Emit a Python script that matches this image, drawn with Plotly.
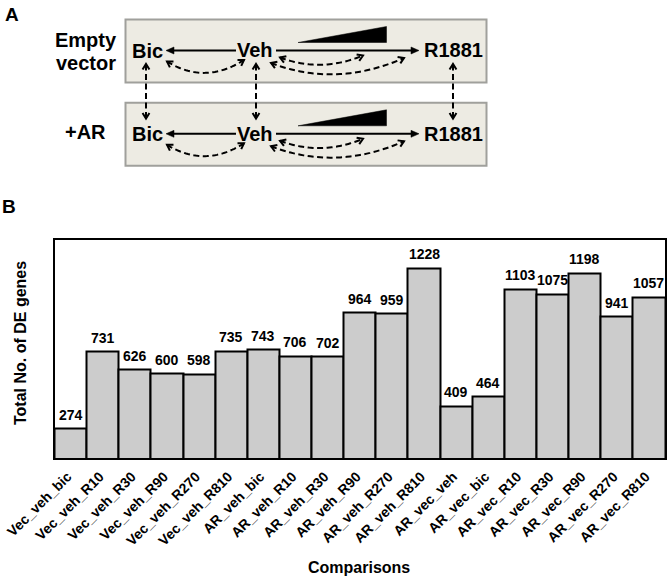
import math
import plotly.graph_objects as go

W, H = 667, 578
FONT = "Liberation Sans, Arial, sans-serif"

categories = ["Vec_veh_bic", "Vec_veh_R10", "Vec_veh_R30", "Vec_veh_R90", "Vec_veh_R270",
              "Vec_veh_R810", "AR_veh_bic", "AR_veh_R10", "AR_veh_R30", "AR_veh_R90",
              "AR_veh_R270", "AR_veh_R810", "AR_vec_veh", "AR_vec_bic", "AR_vec_R10",
              "AR_vec_R30", "AR_vec_R90", "AR_vec_R270", "AR_vec_R810"]
de_genes = [274, 731, 626, 600, 598, 735, 743, 706, 702, 964, 959, 1228,
            409, 464, 1103, 1075, 1198, 941, 1057]
y_range = [100, 1400]

# pixel -> paper helpers
def fx(x):
    return x / W

def fy(y):
    return 1 - y / H

def path(points, close=False):
    s = "M " + " L ".join(f"{fx(x):.5f},{fy(y):.5f}" for x, y in points)
    return s + (" Z" if close else "")

shapes = []
annotations = []
DASH = "6px,3.5px"

def line_shape(pts, dash="solid", width=2, color="black"):
    shapes.append(dict(type="path", xref="paper", yref="paper", path=path(pts),
                       line=dict(color=color, width=width, dash=dash)))

def filled(pts, color="black"):
    shapes.append(dict(type="path", xref="paper", yref="paper", path=path(pts, True),
                       fillcolor=color, line=dict(color=color, width=0.5)))

def chevron(tip, back, length=6.5, ang=32):
    bx, by = back[0] - tip[0], back[1] - tip[1]
    n = math.hypot(bx, by)
    bx, by = bx / n, by / n
    pts = []
    for s in (1, -1):
        a = math.radians(ang * s)
        rx = bx * math.cos(a) - by * math.sin(a)
        ry = bx * math.sin(a) + by * math.cos(a)
        pts.append((tip[0] + rx * length, tip[1] + ry * length))
    line_shape([pts[0], tip, pts[1]], width=2)

def dashed_curve(p0, c, p1):
    pts = []
    for i in range(41):
        t = i / 40
        x = (1 - t) ** 2 * p0[0] + 2 * (1 - t) * t * c[0] + t ** 2 * p1[0]
        y = (1 - t) ** 2 * p0[1] + 2 * (1 - t) * t * c[1] + t ** 2 * p1[1]
        pts.append((x, y))
    line_shape(pts, dash=DASH, width=2)
    chevron(p0, c)
    chevron(p1, c)

def text(x, y, s, size=20, xanchor="center", angle=0):
    annotations.append(dict(x=fx(x), y=fy(y), xref="paper", yref="paper", text=f"<b>{s}</b>",
                            showarrow=False, xanchor=xanchor, yanchor="middle", textangle=angle,
                            font=dict(family=FONT, size=size, color="black")))

# Panel A
for dy in (0, 83.3):
    shapes.append(dict(type="rect", xref="paper", yref="paper",
                       x0=fx(125.5), x1=fx(486.5), y0=fy(19.5 + dy), y1=fy(82.5 + dy),
                       fillcolor="#EDEBE3", line=dict(color="#A0A09C", width=2)))

for dy in (0, 83.3):
    yl = 50.5 + dy
    # Veh -> Bic solid arrow
    line_shape([(236, yl), (172, yl)], width=2)
    filled([(166, yl), (174, yl - 3.5), (174, yl + 3.5)])
    # Veh -> R1881 solid arrow
    line_shape([(276, yl), (412, yl)], width=2)
    filled([(419, yl), (411, yl - 3.5), (411, yl + 3.5)])
    # dose wedge
    filled([(298, 42.5 + dy), (386.5, 26.5 + dy), (386.5, 42.5 + dy)])
    # dashed curves
    dashed_curve((167, 61.5 + dy), (205, 85 + dy), (244, 60 + dy))
    dashed_curve((280, 57.5 + dy), (321, 73 + dy), (363, 55.5 + dy))
    dashed_curve((271, 63 + dy), (336, 88 + dy), (404, 58 + dy))
    text(147, 51 + dy, "Bic")
    text(254.5, 50.5 + dy, "Veh")
    text(453, 50.5 + dy, "R1881")

# vertical dashed double arrows
for xv in (146, 256, 453):
    line_shape([(xv, 64.5), (xv, 118)], dash=DASH, width=2)
    chevron((xv, 64), (xv, 80))
    chevron((xv, 118.5), (xv, 100))

text(12, 14, "A", size=19)
text(86, 40, "Empty")
text(86, 63, "vector")
text(85, 132, "+AR")

# Panel B labels
text(9, 206, "B", size=19)
text(20, 343, "Total No. of DE genes", size=16, angle=-90)
text(359, 567, "Comparisons", size=16)

# value labels above bars (data coordinates)
for c, v in zip(categories, de_genes):
    annotations.append(dict(x=c, y=v, xref="x", yref="y", text=f"<b>{v}</b>", showarrow=False,
                            yanchor="bottom", yshift=4,
                            font=dict(family=FONT, size=14, color="black")))

fig = go.Figure()
fig.add_trace(go.Bar(
    x=categories, y=de_genes, width=1.0,
    marker=dict(color="#CCCCCC", line=dict(color="black", width=2)),
    hoverinfo="skip",
))

fig.update_layout(
    width=W, height=H, margin=dict(l=0, r=0, t=0, b=0),
    paper_bgcolor="white", plot_bgcolor="white", showlegend=False,
    bargap=0,
    shapes=shapes, annotations=annotations,
    xaxis=dict(domain=[fx(54.5), fx(665)], showline=True, linecolor="black", linewidth=2,
               mirror=True, ticks="", tickangle=-45, automargin=False,
               ticklabelstandoff=3, ticklabelshift=-3,
               tickfont=dict(family=FONT, size=14, color="black", weight="bold"),
               range=[-0.5, len(categories) - 0.5]),
    yaxis=dict(domain=[fy(458), fy(239.5)], range=y_range, showline=True, linecolor="black",
               linewidth=2, mirror=True, showgrid=False, zeroline=False, showticklabels=False,
               ticks="", automargin=False),
    font=dict(family=FONT),
)

fig.write_html("out.html", config={"displayModeBar": False},
               post_script="document.body.style.margin='0px';")
